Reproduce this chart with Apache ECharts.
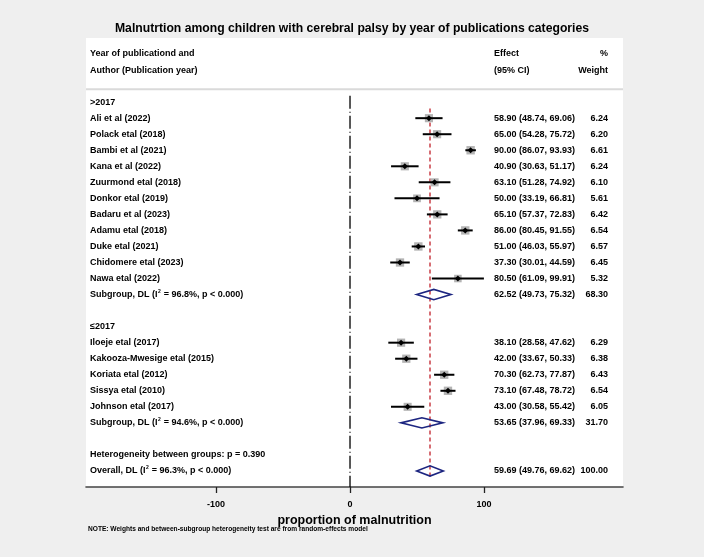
<!DOCTYPE html>
<html>
<head>
<meta charset="utf-8">
<script src="https://cdn.jsdelivr.net/npm/echarts@6/dist/echarts.min.js"></script>
<style>
html,body{margin:0;padding:0;background:#efefef;}
#chart{width:704px;height:557px;}
</style>
</head>
<body>
<div id="chart"></div>
<script>
const chartTitle = 'Malnutrtion among children with cerebral palsy by year of publications categories';
const axisTitle = 'proportion of malnutrition';
const noteText = 'NOTE: Weights and between-subgroup heterogeneity test are from random-effects model';
const headerLeft = ['Year of publicationd and', 'Author (Publication year)'];
const headerEffect = ['Effect', '(95% CI)'];
const headerWeight = ['%', 'Weight'];
const xTicks = [-100, 0, 100];

const rowLabels = [
  '>2017',
  'Ali et al (2022)',
  'Polack etal (2018)',
  'Bambi et al (2021)',
  'Kana et al (2022)',
  'Zuurmond etal (2018)',
  'Donkor etal (2019)',
  'Badaru et al (2023)',
  'Adamu etal (2018)',
  'Duke etal (2021)',
  'Chidomere etal (2023)',
  'Nawa etal (2022)',
  'Subgroup, DL (I^2 = 96.8%, p < 0.000)',
  '',
  '\u22642017',
  'Iloeje etal (2017)',
  'Kakooza-Mwesige etal (2015)',
  'Koriata etal (2012)',
  'Sissya etal (2010)',
  'Johnson etal (2017)',
  'Subgroup, DL (I^2 = 94.6%, p < 0.000)',
  '',
  'Heterogeneity between groups: p = 0.390',
  'Overall, DL (I^2 = 96.3%, p < 0.000)'
];
const rowTypes = [
  'group','study','study','study','study','study','study','study','study','study','study','study','pooled','blank',
  'group','study','study','study','study','study','pooled','blank','note','overall'
];
const estimate = [null, 58.90, 65.00, 90.00, 40.90, 63.10, 50.00, 65.10, 86.00, 51.00, 37.30, 80.50, 62.52, null,
  null, 38.10, 42.00, 70.30, 73.10, 43.00, 53.65, null, null, 59.69];
const ciLow = [null, 48.74, 54.28, 86.07, 30.63, 51.28, 33.19, 57.37, 80.45, 46.03, 30.01, 61.09, 49.73, null,
  null, 28.58, 33.67, 62.73, 67.48, 30.58, 37.96, null, null, 49.76];
const ciHigh = [null, 69.06, 75.72, 93.93, 51.17, 74.92, 66.81, 72.83, 91.55, 55.97, 44.59, 99.91, 75.32, null,
  null, 47.62, 50.33, 77.87, 78.72, 55.42, 69.33, null, null, 69.62];
const weight = [null, 6.24, 6.20, 6.61, 6.24, 6.10, 5.61, 6.42, 6.54, 6.57, 6.45, 5.32, 68.30, null,
  null, 6.29, 6.38, 6.43, 6.54, 6.05, 31.70, null, null, 100.00];

const FONT = '"Liberation Sans", Arial, Helvetica, sans-serif';
const NAVY = '#1c2580';

function txt(x, y, s, align, size) {
  size = size || 9;
  if (s.indexOf('^2') >= 0) {
    const parts = s.split('^2');
    return {
      type: 'text', x: x, y: y,
      style: {
        text: '{b|' + parts[0] + '}{s|2}{b|' + parts[1] + '}',
        rich: {
          b: { fontFamily: FONT, fontWeight: 'bold', fontSize: size, fill: '#000', lineHeight: 11, verticalAlign: 'middle' },
          s: { fontFamily: FONT, fontWeight: 'bold', fontSize: 5, fill: '#000', lineHeight: 11, verticalAlign: 'top', padding: [0, 0.5, 0, 0.5] }
        },
        align: align, verticalAlign: 'middle'
      }
    };
  }
  return {
    type: 'text', x: x, y: y,
    style: { text: s, fontFamily: FONT, fontWeight: 'bold', fontSize: size, fill: '#000', align: align, verticalAlign: 'middle' }
  };
}

function renderFrame(params, api) {
  const cs = params.coordSys;
  const ch = [];
  for (let k = 0; k < 2; k++) {
    const y = api.coord([0, k === 0 ? -3.05 : -2.0])[1];
    ch.push(txt(cs.x + 4, y, headerLeft[k], 'left'));
    ch.push(txt(cs.x + 408, y, headerEffect[k], 'left'));
    ch.push(txt(cs.x + cs.width - 15, y, headerWeight[k], 'right'));
  }
  const ys = api.coord([0, -0.81])[1];
  ch.push({ type: 'line', shape: { x1: cs.x, y1: ys, x2: cs.x + cs.width, y2: ys }, style: { stroke: '#dadada', lineWidth: 2 } });
  const n0 = api.coord([0, -0.4]);
  ch.push({ type: 'line', shape: { x1: n0[0], y1: n0[1], x2: n0[0], y2: cs.y + cs.height }, style: { stroke: '#000', lineWidth: 1.3, lineDash: [13, 3, 1, 3] } });
  const oi = rowTypes.indexOf('overall');
  const r0 = api.coord([estimate[oi], 0.4]);
  const r1 = api.coord([estimate[oi], oi + 0.35]);
  ch.push({ type: 'line', shape: { x1: r0[0], y1: r0[1], x2: r1[0], y2: r1[1] }, style: { stroke: '#c0202a', lineWidth: 1.3, lineDash: [4, 3] } });
  return { type: 'group', children: ch };
}

function renderRow(params, api) {
  const i = params.dataIndex;
  const cs = params.coordSys;
  const ch = [];
  const y = api.coord([0, i])[1];
  if (rowLabels[i]) ch.push(txt(cs.x + 4, y, rowLabels[i], 'left'));
  if (estimate[i] != null) {
    ch.push(txt(cs.x + 408, y, estimate[i].toFixed(2) + ' (' + ciLow[i].toFixed(2) + ', ' + ciHigh[i].toFixed(2) + ')', 'left'));
    ch.push(txt(cs.x + cs.width - 15, y, weight[i].toFixed(2), 'right'));
    const pe = api.coord([estimate[i], i]);
    const lo = api.coord([ciLow[i], i]);
    const hi = api.coord([ciHigh[i], i]);
    if (rowTypes[i] === 'study') {
      const s = 8.4 * Math.sqrt(weight[i] / 6.6);
      ch.push({ type: 'rect', shape: { x: pe[0] - s / 2, y: pe[1] - s / 2, width: s, height: s }, style: { fill: '#b4b4b4' } });
      ch.push({ type: 'line', shape: { x1: lo[0], y1: lo[1], x2: hi[0], y2: hi[1] }, style: { stroke: '#000', lineWidth: 2 } });
      ch.push({ type: 'polygon', shape: { points: [[pe[0] - 3, pe[1]], [pe[0], pe[1] - 3], [pe[0] + 3, pe[1]], [pe[0], pe[1] + 3]] }, style: { fill: '#000' } });
    } else {
      const t = api.coord([estimate[i], i - 0.32]);
      const b = api.coord([estimate[i], i + 0.32]);
      ch.push({ type: 'polygon', shape: { points: [lo, t, hi, b] }, style: { fill: 'none', stroke: NAVY, lineWidth: 1.6 } });
    }
  }
  return { type: 'group', children: ch };
}

const chart = echarts.init(document.getElementById('chart'), null, { renderer: 'canvas' });
chart.setOption({
  backgroundColor: '#efefef',
  animation: false,
  title: {
    text: chartTitle, left: 'center', top: 18,
    textStyle: { fontFamily: FONT, fontWeight: 'bold', fontSize: 12.2, color: '#000' }
  },
  grid: { left: 86, right: 81, top: 38, bottom: 70, show: true, backgroundColor: '#ffffff', borderWidth: 0 },
  xAxis: {
    type: 'value', min: -197, max: 203.7,
    name: axisTitle, nameLocation: 'middle', nameGap: 20,
    nameTextStyle: { fontFamily: FONT, fontWeight: 'bold', fontSize: 12.5, color: '#000' },
    axisLine: { show: true, onZero: false, lineStyle: { color: '#444', width: 1.6 } },
    axisTick: { show: true, customValues: xTicks, length: 6, lineStyle: { color: '#222', width: 1.3 } },
    axisLabel: { customValues: xTicks, margin: 13, fontFamily: FONT, fontWeight: 'bold', fontSize: 9, color: '#000' },
    splitLine: { show: false }
  },
  yAxis: { type: 'value', inverse: true, min: -4, max: 24, show: false },
  graphic: [{
    type: 'text', left: 88, top: 526,
    style: { text: noteText, fontFamily: FONT, fontWeight: 'bold', fontSize: 6.6, fill: '#000' }
  }],
  series: [
    { type: 'custom', name: 'frame', renderItem: renderFrame, data: [[0, 0]], clip: false, z: 1, silent: true },
    { type: 'custom', name: 'rows', renderItem: renderRow, data: rowLabels.map((_, i) => [0, i]), clip: false, z: 2, silent: true }
  ]
});
</script>
</body>
</html>
